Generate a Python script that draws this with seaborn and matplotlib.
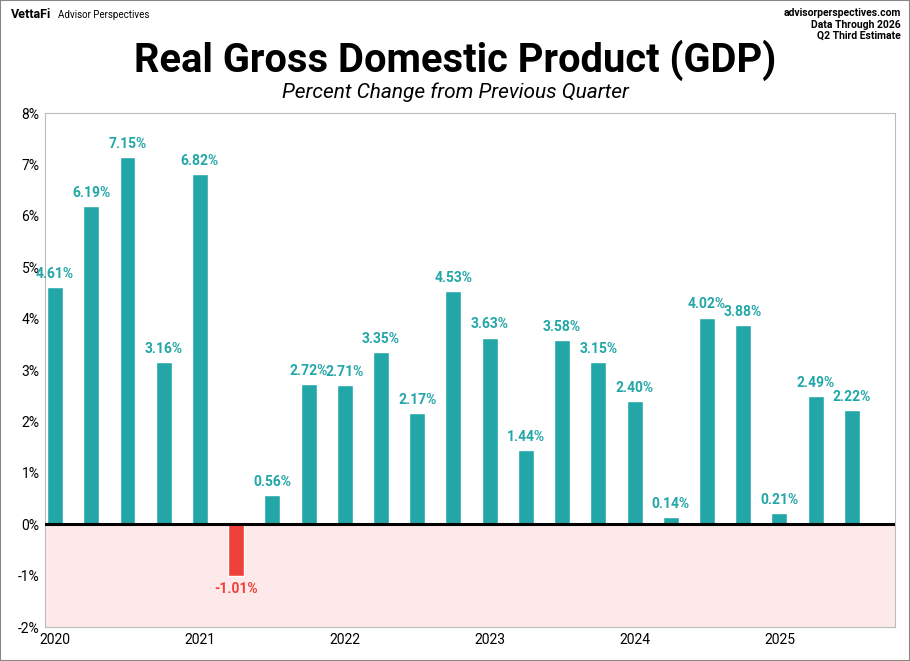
import matplotlib
matplotlib.use("Agg")
import matplotlib.pyplot as plt
import seaborn as sns
import pandas as pd

values = [4.61, 6.19, 7.15, 3.16, 6.82, -1.01, 0.56, 2.72, 2.71, 3.35, 2.17, 4.53,
          3.63, 1.44, 3.58, 3.15, 2.40, 0.14, 4.02, 3.88, 0.21, 2.49, 2.22]
year_labels = ["2020", "2021", "2022", "2023", "2024", "2025"]

sns.set_style("white")
plt.rcParams["font.family"] = ["Roboto", "DejaVu Sans"]
plt.rcParams["text.color"] = "black"
font = ["Roboto", "DejaVu Sans"]

df = pd.DataFrame({"q": range(len(values)), "v": values})
teal = "#22A6A8"
red = "#F0403A"
colors = [teal if v >= 0 else red for v in values]

fig = plt.figure(figsize=(9.1, 6.61), dpi=100)
ax = fig.add_axes([0.0495, 0.0514, 0.934, 0.7776])
sns.barplot(data=df, x="q", y="v", hue="q", palette=colors, legend=False,
            width=0.44, saturation=1, ax=ax)

ax.set_xlim(-0.276, 23.19)
ax.set_ylim(-2, 8)
ax.axhspan(-2, 0, color="#FDE9E9", zorder=0)
ax.axhline(0, color="black", lw=2.2, zorder=3)
ax.set_yticks(range(-2, 9))
ax.set_yticklabels([f"{t}%" for t in range(-2, 9)], fontsize=10, color="black")
ax.set_xticks(range(0, len(values), 4))
ax.set_xticklabels(year_labels, fontsize=10, color="black")
ax.tick_params(axis="both", length=0, pad=4)
ax.set_xlabel("")
ax.set_ylabel("")
for s in ax.spines.values():
    s.set_color("#BBBBBB")

for i, v in enumerate(values):
    if v >= 0:
        ax.text(i, v + 0.12, f"{v:.2f}%", ha="center", va="bottom",
                color=teal, fontsize=10, fontweight="bold", family=font)
    else:
        ax.text(i, v - 0.12, f"{v:.2f}%", ha="center", va="top",
                color=red, fontsize=10, fontweight="bold", family=font)

fig.text(0.5, 0.908, "Real Gross Domestic Product (GDP)", ha="center", va="center",
         fontsize=28.7, fontweight="bold", family=font)
fig.text(0.5, 0.861, "Percent Change from Previous Quarter", ha="center", va="center",
         fontsize=15, style="italic", family=font)
fig.text(0.012, 0.978, "VettaFi", fontsize=9, fontweight="bold", va="center", family=font)
fig.text(0.064, 0.978, "Advisor Perspectives", fontsize=7, va="center", family=font)
fig.text(0.99, 0.988, "advisorperspectives.com\nData Through 2026\nQ2 Third Estimate",
         ha="right", va="top", fontsize=7.5, fontweight="bold", linespacing=1.2,
         family=font)

fig.patches.append(plt.Rectangle((0, 0), 1, 1, transform=fig.transFigure,
                                 fill=False, edgecolor="#888888", lw=1.5))
fig.savefig("out.png", dpi=100)
